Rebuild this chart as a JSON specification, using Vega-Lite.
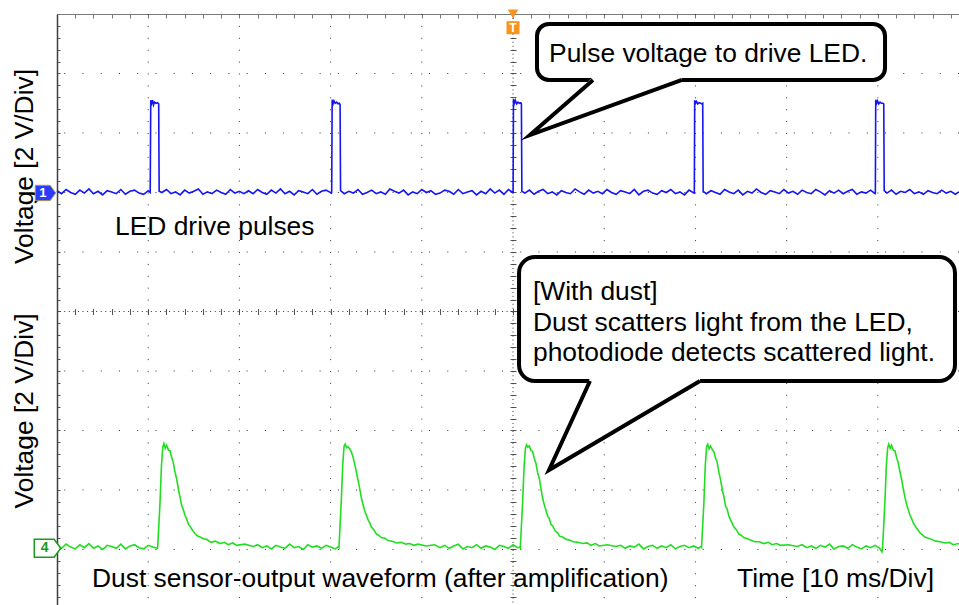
{
"$schema": "https://vega.github.io/schema/vega-lite/v6.json",
"width": 902, "height": 591,
"autosize": {"type": "none"},
"padding": {"left": 57, "top": 14, "right": 0, "bottom": 0},
"background": "white",
"config": {"view": {"stroke": null}, "font": "Liberation Sans"},
"resolve": {"axis": {"x": "independent", "y": "independent"}},
"datasets": {
"ch1": [
{"t":0.0,"v":7.03},{"t":0.5,"v":6.98},{"t":1.0,"v":7.05},{"t":1.5,"v":7.0},{"t":2.0,"v":6.97},{"t":2.5,"v":7.04},{"t":3.0,"v":6.99},{"t":3.5,"v":7.06},{"t":4.0,"v":6.98},{"t":4.5,"v":7.02},{"t":5.0,"v":6.96},{"t":5.5,"v":7.03},{"t":6.0,"v":7.01},{"t":6.5,"v":6.98},{"t":7.0,"v":7.05},{"t":7.5,"v":6.97},{"t":8.0,"v":7.02},{"t":8.5,"v":7.04},{"t":9.0,"v":6.99},{"t":9.5,"v":6.97},{"t":10.0,"v":7.03},
{"t":10.22,"v":7.0},{"t":10.28,"v":8.55},{"t":10.38,"v":8.5},{"t":10.48,"v":8.55},{"t":10.58,"v":8.47},{"t":10.7,"v":8.52},{"t":10.85,"v":8.5},{"t":11.0,"v":8.51},{"t":11.15,"v":8.49},{"t":11.2,"v":7.02},
{"t":11.5,"v":7.0},{"t":12.0,"v":7.05},{"t":12.5,"v":6.98},{"t":13.0,"v":7.01},{"t":13.5,"v":6.96},{"t":14.0,"v":7.04},{"t":14.5,"v":6.99},{"t":15.0,"v":7.02},{"t":15.5,"v":7.06},{"t":16.0,"v":6.97},{"t":16.5,"v":7.01},{"t":17.0,"v":6.98},{"t":17.5,"v":7.04},{"t":18.0,"v":7.0},{"t":18.5,"v":6.97},{"t":19.0,"v":7.05},{"t":19.5,"v":6.99},{"t":20.0,"v":7.02},{"t":20.5,"v":6.98},{"t":21.0,"v":7.03},{"t":21.5,"v":6.98},{"t":22.0,"v":7.05},{"t":22.5,"v":7.0},{"t":23.0,"v":6.97},{"t":23.5,"v":7.04},{"t":24.0,"v":6.99},{"t":24.5,"v":7.06},{"t":25.0,"v":6.98},{"t":25.5,"v":7.02},{"t":26.0,"v":6.96},{"t":26.5,"v":7.03},{"t":27.0,"v":7.01},{"t":27.5,"v":6.98},{"t":28.0,"v":7.05},{"t":28.5,"v":6.97},{"t":29.0,"v":7.02},{"t":29.5,"v":7.04},{"t":30.1,"v":6.99},
{"t":30.12,"v":7.0},{"t":30.17,"v":8.56},{"t":30.27,"v":8.49},{"t":30.37,"v":8.54},{"t":30.5,"v":8.5},{"t":30.65,"v":8.52},{"t":30.8,"v":8.49},{"t":30.95,"v":8.5},{"t":31.04,"v":8.48},{"t":31.09,"v":7.03},
{"t":31.5,"v":6.98},{"t":32.0,"v":7.02},{"t":32.5,"v":6.99},{"t":33.0,"v":7.05},{"t":33.5,"v":6.97},{"t":34.0,"v":7.0},{"t":34.5,"v":7.04},{"t":35.0,"v":6.98},{"t":35.5,"v":7.01},{"t":36.0,"v":6.97},{"t":36.5,"v":7.06},{"t":37.0,"v":7.02},{"t":37.5,"v":6.99},{"t":38.0,"v":7.04},{"t":38.5,"v":6.96},{"t":39.0,"v":7.01},{"t":39.5,"v":6.98},{"t":40.0,"v":7.05},{"t":40.5,"v":7.0},{"t":41.0,"v":7.03},{"t":41.5,"v":6.97},{"t":42.0,"v":6.99},{"t":42.5,"v":7.04},{"t":43.0,"v":7.02},{"t":43.5,"v":6.97},{"t":44.0,"v":7.05},{"t":44.5,"v":6.98},{"t":45.0,"v":7.01},{"t":45.5,"v":7.03},{"t":46.0,"v":6.96},{"t":46.5,"v":7.02},{"t":47.0,"v":6.98},{"t":47.5,"v":7.06},{"t":48.0,"v":6.99},{"t":48.5,"v":7.04},{"t":49.0,"v":6.97},{"t":49.5,"v":7.05},{"t":49.98,"v":7.0},
{"t":50.01,"v":7.01},{"t":50.05,"v":8.57},{"t":50.15,"v":8.5},{"t":50.25,"v":8.55},{"t":50.4,"v":8.49},{"t":50.55,"v":8.52},{"t":50.7,"v":8.5},{"t":50.85,"v":8.51},{"t":50.92,"v":8.49},{"t":50.97,"v":7.02},
{"t":51.3,"v":6.99},{"t":51.8,"v":7.04},{"t":52.3,"v":6.97},{"t":52.8,"v":7.02},{"t":53.3,"v":7.05},{"t":53.8,"v":6.98},{"t":54.3,"v":7.01},{"t":54.8,"v":6.96},{"t":55.3,"v":7.03},{"t":55.8,"v":7.0},{"t":56.3,"v":6.98},{"t":56.8,"v":7.06},{"t":57.3,"v":7.01},{"t":57.8,"v":6.97},{"t":58.3,"v":7.04},{"t":58.8,"v":6.99},{"t":59.3,"v":7.02},{"t":59.8,"v":6.98},{"t":60.3,"v":7.05},{"t":60.8,"v":7.0},{"t":61.3,"v":6.97},{"t":61.8,"v":7.03},{"t":62.3,"v":7.01},{"t":62.8,"v":6.98},{"t":63.3,"v":7.05},{"t":63.8,"v":6.96},{"t":64.3,"v":7.02},{"t":64.8,"v":7.04},{"t":65.3,"v":6.99},{"t":65.8,"v":6.97},{"t":66.3,"v":7.03},{"t":66.8,"v":7.0},{"t":67.3,"v":7.05},{"t":67.8,"v":6.98},{"t":68.3,"v":7.01},{"t":68.8,"v":6.96},{"t":69.3,"v":7.04},{"t":69.85,"v":6.99},
{"t":69.88,"v":7.0},{"t":69.92,"v":8.55},{"t":70.02,"v":8.5},{"t":70.12,"v":8.53},{"t":70.25,"v":8.49},{"t":70.4,"v":8.51},{"t":70.55,"v":8.5},{"t":70.7,"v":8.49},{"t":70.8,"v":8.5},{"t":70.85,"v":7.02},
{"t":71.2,"v":6.98},{"t":71.7,"v":7.03},{"t":72.2,"v":7.0},{"t":72.7,"v":6.97},{"t":73.2,"v":7.05},{"t":73.7,"v":7.01},{"t":74.2,"v":6.98},{"t":74.7,"v":7.04},{"t":75.2,"v":6.96},{"t":75.7,"v":7.02},{"t":76.2,"v":6.99},{"t":76.7,"v":7.06},{"t":77.2,"v":7.0},{"t":77.7,"v":6.97},{"t":78.2,"v":7.03},{"t":78.7,"v":7.01},{"t":79.2,"v":6.98},{"t":79.7,"v":7.05},{"t":80.2,"v":6.99},{"t":80.7,"v":7.02},{"t":81.2,"v":6.97},{"t":81.7,"v":7.04},{"t":82.2,"v":7.0},{"t":82.7,"v":6.98},{"t":83.2,"v":7.05},{"t":83.7,"v":7.01},{"t":84.2,"v":6.96},{"t":84.7,"v":7.03},{"t":85.2,"v":6.99},{"t":85.7,"v":7.04},{"t":86.2,"v":6.98},{"t":86.7,"v":7.02},{"t":87.2,"v":7.05},{"t":87.7,"v":6.97},{"t":88.2,"v":7.01},{"t":88.7,"v":6.99},{"t":89.2,"v":7.04},{"t":89.7,"v":6.98},
{"t":89.73,"v":7.0},{"t":89.77,"v":8.56},{"t":89.87,"v":8.5},{"t":89.97,"v":8.54},{"t":90.1,"v":8.49},{"t":90.25,"v":8.52},{"t":90.4,"v":8.5},{"t":90.55,"v":8.5},{"t":90.65,"v":8.49},{"t":90.7,"v":7.03},
{"t":91.0,"v":6.99},{"t":91.5,"v":7.04},{"t":92.0,"v":6.97},{"t":92.5,"v":7.02},{"t":93.0,"v":7.0},{"t":93.5,"v":7.05},{"t":94.0,"v":6.98},{"t":94.5,"v":7.01},{"t":95.0,"v":6.97},{"t":95.5,"v":7.03},{"t":96.0,"v":7.0},{"t":96.5,"v":6.98},{"t":97.0,"v":7.04},{"t":97.5,"v":6.99},{"t":98.0,"v":7.02},{"t":98.5,"v":6.97},{"t":98.9,"v":7.01}
],
"ch4": [
{"t":0.0,"v":1.07},{"t":0.5,"v":1.02},{"t":1.0,"v":1.09},{"t":1.5,"v":1.04},{"t":2.0,"v":1.01},{"t":2.5,"v":1.08},{"t":3.0,"v":1.03},{"t":3.5,"v":1.1},{"t":4.0,"v":1.02},{"t":4.5,"v":1.06},{"t":5.0,"v":1.0},{"t":5.5,"v":1.07},{"t":6.0,"v":1.05},{"t":6.5,"v":1.02},{"t":7.0,"v":1.09},{"t":7.5,"v":1.01},{"t":8.0,"v":1.06},{"t":8.5,"v":1.08},{"t":9.0,"v":1.03},{"t":9.5,"v":1.01},{"t":10.0,"v":1.07},{"t":10.5,"v":1.04},{"t":11.0,"v":1.02},
{"t":11.04,"v":1.04},{"t":11.3,"v":1.8},{"t":11.45,"v":2.4},{"t":11.6,"v":2.72},{"t":11.72,"v":2.78},{"t":11.87,"v":2.7},{"t":12.02,"v":2.75},{"t":12.22,"v":2.67},{"t":12.39,"v":2.66},{"t":12.57,"v":2.55},{"t":12.75,"v":2.46},{"t":12.94,"v":2.3},{"t":13.13,"v":2.18},{"t":13.32,"v":2.0},{"t":13.49,"v":1.88},{"t":13.67,"v":1.74},{"t":13.85,"v":1.67},{"t":14.04,"v":1.57},{"t":14.22,"v":1.51},{"t":14.4,"v":1.43},{"t":14.58,"v":1.39},{"t":14.87,"v":1.32},{"t":15.13,"v":1.27},{"t":15.37,"v":1.23},{"t":15.68,"v":1.21},{"t":16.07,"v":1.18},{"t":16.41,"v":1.17},{"t":16.87,"v":1.12},{"t":17.37,"v":1.14},{"t":17.87,"v":1.1},{"t":18.37,"v":1.12},{"t":18.77,"v":1.08},{"t":19.27,"v":1.11},{"t":19.7,"v":1.07},{"t":20.57,"v":1.09},{"t":21.52,"v":1.05},
{"t":22.0,"v":1.08},{"t":22.5,"v":1.03},{"t":23.0,"v":1.06},{"t":23.5,"v":1.01},{"t":24.0,"v":1.07},{"t":24.5,"v":1.04},{"t":25.0,"v":1.02},{"t":25.5,"v":1.09},{"t":26.0,"v":1.03},{"t":26.5,"v":1.05},{"t":27.0,"v":1.0},{"t":27.5,"v":1.08},{"t":28.0,"v":1.04},{"t":28.5,"v":1.06},{"t":29.0,"v":1.02},{"t":29.5,"v":1.07},{"t":30.0,"v":1.04},{"t":30.5,"v":1.01},{"t":30.88,"v":1.05},
{"t":30.92,"v":1.04},{"t":31.18,"v":1.85},{"t":31.33,"v":2.42},{"t":31.48,"v":2.74},{"t":31.6,"v":2.77},{"t":31.75,"v":2.71},{"t":31.9,"v":2.73},{"t":32.1,"v":2.69},{"t":32.27,"v":2.64},{"t":32.45,"v":2.56},{"t":32.63,"v":2.44},{"t":32.82,"v":2.31},{"t":33.01,"v":2.16},{"t":33.2,"v":2.02},{"t":33.37,"v":1.87},{"t":33.55,"v":1.76},{"t":33.73,"v":1.65},{"t":33.92,"v":1.58},{"t":34.1,"v":1.5},{"t":34.28,"v":1.45},{"t":34.46,"v":1.38},{"t":34.75,"v":1.33},{"t":35.01,"v":1.26},{"t":35.25,"v":1.24},{"t":35.56,"v":1.2},{"t":35.95,"v":1.19},{"t":36.29,"v":1.15},{"t":36.75,"v":1.14},{"t":37.25,"v":1.11},{"t":37.75,"v":1.12},{"t":38.25,"v":1.09},{"t":38.65,"v":1.1},{"t":39.15,"v":1.07},{"t":39.58,"v":1.09},{"t":40.45,"v":1.06},{"t":41.4,"v":1.08},
{"t":42.0,"v":1.03},{"t":42.5,"v":1.07},{"t":43.0,"v":1.02},{"t":43.5,"v":1.06},{"t":44.0,"v":1.09},{"t":44.5,"v":1.01},{"t":45.0,"v":1.05},{"t":45.5,"v":1.03},{"t":46.0,"v":1.08},{"t":46.5,"v":1.02},{"t":47.0,"v":1.06},{"t":47.5,"v":1.04},{"t":48.0,"v":1.0},{"t":48.5,"v":1.07},{"t":49.0,"v":1.05},{"t":49.5,"v":1.02},{"t":50.0,"v":1.08},{"t":50.5,"v":1.03},{"t":50.76,"v":1.04},
{"t":50.8,"v":1.03},{"t":51.06,"v":1.82},{"t":51.21,"v":2.38},{"t":51.36,"v":2.7},{"t":51.48,"v":2.76},{"t":51.63,"v":2.72},{"t":51.78,"v":2.74},{"t":51.98,"v":2.66},{"t":52.15,"v":2.65},{"t":52.33,"v":2.53},{"t":52.51,"v":2.45},{"t":52.7,"v":2.29},{"t":52.89,"v":2.19},{"t":53.08,"v":2.01},{"t":53.25,"v":1.86},{"t":53.43,"v":1.75},{"t":53.61,"v":1.66},{"t":53.8,"v":1.56},{"t":53.98,"v":1.52},{"t":54.16,"v":1.42},{"t":54.34,"v":1.4},{"t":54.63,"v":1.31},{"t":54.89,"v":1.28},{"t":55.13,"v":1.22},{"t":55.44,"v":1.21},{"t":55.83,"v":1.17},{"t":56.17,"v":1.16},{"t":56.63,"v":1.13},{"t":57.13,"v":1.12},{"t":57.63,"v":1.1},{"t":58.13,"v":1.11},{"t":58.53,"v":1.07},{"t":59.03,"v":1.1},{"t":59.46,"v":1.06},{"t":60.33,"v":1.08},{"t":61.28,"v":1.05},
{"t":61.8,"v":1.07},{"t":62.3,"v":1.02},{"t":62.8,"v":1.06},{"t":63.3,"v":1.04},{"t":63.8,"v":1.09},{"t":64.3,"v":1.01},{"t":64.8,"v":1.05},{"t":65.3,"v":1.07},{"t":65.8,"v":1.02},{"t":66.3,"v":1.06},{"t":66.8,"v":1.03},{"t":67.3,"v":1.08},{"t":67.8,"v":1.01},{"t":68.3,"v":1.05},{"t":68.8,"v":1.07},{"t":69.3,"v":1.03},{"t":69.8,"v":1.06},{"t":70.3,"v":1.02},{"t":70.63,"v":1.05},
{"t":70.67,"v":1.04},{"t":70.93,"v":1.79},{"t":71.08,"v":2.41},{"t":71.23,"v":2.73},{"t":71.35,"v":2.77},{"t":71.5,"v":2.69},{"t":71.65,"v":2.74},{"t":71.85,"v":2.68},{"t":72.02,"v":2.64},{"t":72.2,"v":2.54},{"t":72.38,"v":2.47},{"t":72.57,"v":2.3},{"t":72.76,"v":2.17},{"t":72.95,"v":2.0},{"t":73.12,"v":1.89},{"t":73.3,"v":1.73},{"t":73.48,"v":1.68},{"t":73.67,"v":1.56},{"t":73.85,"v":1.5},{"t":74.03,"v":1.44},{"t":74.21,"v":1.38},{"t":74.5,"v":1.33},{"t":74.76,"v":1.26},{"t":75.0,"v":1.24},{"t":75.31,"v":1.2},{"t":75.7,"v":1.18},{"t":76.04,"v":1.16},{"t":76.5,"v":1.13},{"t":77.0,"v":1.13},{"t":77.5,"v":1.1},{"t":78.0,"v":1.12},{"t":78.4,"v":1.08},{"t":78.9,"v":1.1},{"t":79.33,"v":1.07},{"t":80.2,"v":1.08},{"t":81.15,"v":1.05},
{"t":81.7,"v":1.08},{"t":82.2,"v":1.03},{"t":82.7,"v":1.06},{"t":83.2,"v":1.02},{"t":83.7,"v":1.07},{"t":84.2,"v":1.04},{"t":84.7,"v":1.09},{"t":85.2,"v":1.01},{"t":85.7,"v":1.05},{"t":86.2,"v":1.06},{"t":86.7,"v":1.02},{"t":87.2,"v":1.08},{"t":87.7,"v":1.04},{"t":88.2,"v":1.01},{"t":88.7,"v":1.06},{"t":89.2,"v":1.03},{"t":89.7,"v":1.07},{"t":90.2,"v":1.02},{"t":90.45,"v":0.96},
{"t":90.52,"v":1.03},{"t":90.78,"v":1.81},{"t":90.93,"v":2.4},{"t":91.08,"v":2.71},{"t":91.2,"v":2.77},{"t":91.35,"v":2.7},{"t":91.5,"v":2.75},{"t":91.7,"v":2.67},{"t":91.87,"v":2.66},{"t":92.05,"v":2.55},{"t":92.23,"v":2.46},{"t":92.42,"v":2.31},{"t":92.61,"v":2.18},{"t":92.8,"v":2.01},{"t":92.97,"v":1.88},{"t":93.15,"v":1.76},{"t":93.33,"v":1.67},{"t":93.52,"v":1.58},{"t":93.7,"v":1.52},{"t":93.88,"v":1.45},{"t":94.06,"v":1.4},{"t":94.35,"v":1.34},{"t":94.61,"v":1.28},{"t":94.85,"v":1.25},{"t":95.16,"v":1.21},{"t":95.55,"v":1.19},{"t":95.89,"v":1.17},{"t":96.35,"v":1.14},{"t":96.85,"v":1.13},{"t":97.35,"v":1.11},{"t":97.85,"v":1.12},{"t":98.25,"v":1.08},{"t":98.9,"v":1.1}
],
"vgrid": [{"gx":10},{"gx":20},{"gx":30},{"gx":40},{"gx":60},{"gx":70},{"gx":80},{"gx":90}],
"hgrid": [{"gy":1},{"gy":2},{"gy":3},{"gy":4},{"gy":6},{"gy":7},{"gy":8},{"gy":9}],
"tailfill1": [{"t":51.86,"v":7.966,"v2":7.966},{"t":58.77,"v":8.94,"v2":8.349},{"t":68.53,"v":8.94,"v2":8.86}],
"tailline1": [{"i":0,"t":58.77,"v":8.891},{"i":1,"t":51.86,"v":7.966},{"i":2,"t":68.53,"v":8.891}],
"tailfill2": [{"t":53.95,"v":2.336,"v2":2.336},{"t":58.44,"v":3.88,"v2":2.742},{"t":70.5,"v":3.88,"v2":3.8}],
"tailline2": [{"i":0,"t":58.44,"v":3.832},{"i":1,"t":53.95,"v":2.336},{"i":2,"t":70.5,"v":3.832}],
"one": [{}]
},
"layer": [
{"data": {"name": "vgrid"},
 "mark": {"type": "rule", "stroke": "#333333", "strokeWidth": 1, "strokeDash": [1, 10.9]},
 "encoding": {"x": {"field": "gx", "type": "quantitative", "scale": {"domain": [0, 98.9], "nice": false, "zero": false},
   "axis": {"orient": "top", "title": null, "labels": false, "grid": false, "domain": true, "domainColor": "#7a7a7a", "domainWidth": 1.2, "ticks": true, "tickSize": -4, "tickColor": "#7a7a7a", "tickWidth": 1,
     "values": [0,2,4,6,8,10,12,14,16,18,20,22,24,26,28,30,32,34,36,38,40,42,44,46,48,50,52,54,56,58,60,62,64,66,68,70,72,74,76,78,80,82,84,86,88,90,92,94,96,98]}}}},
{"data": {"name": "hgrid"},
 "mark": {"type": "rule", "stroke": "#333333", "strokeWidth": 1, "strokeDash": [1, 17.24]},
 "encoding": {"y": {"field": "gy", "type": "quantitative", "scale": {"domain": [0.067, 10], "nice": false, "zero": false},
   "axis": {"orient": "left", "title": null, "labels": false, "grid": false, "domain": true, "domainColor": "#404040", "domainWidth": 1.5, "ticks": true, "tickSize": -3, "tickColor": "#555555", "tickWidth": 1,
     "values": [0.2,0.4,0.6,0.8,1,1.2,1.4,1.6,1.8,2,2.2,2.4,2.6,2.8,3,3.2,3.4,3.6,3.8,4,4.2,4.4,4.6,4.8,5,5.2,5.4,5.6,5.8,6,6.2,6.4,6.6,6.8,7,7.2,7.4,7.6,7.8,8,8.2,8.4,8.6,8.8,9,9.2,9.4,9.6,9.8]}}}},
{"data": {"values": [{"gx": 50}]},
 "mark": {"type": "rule", "stroke": "#333333", "strokeWidth": 1, "strokeDash": [1, 2.97]},
 "encoding": {"x": {"field": "gx", "type": "quantitative", "scale": {"domain": [0, 98.9], "nice": false, "zero": false},
   "axis": {"orient": "bottom", "offset": -296.5, "title": null, "labels": false, "grid": false, "domain": false, "ticks": true, "tickSize": 6, "tickColor": "#555555", "tickWidth": 1,
     "values": [2,4,6,8,10,12,14,16,18,20,22,24,26,28,30,32,34,36,38,40,42,44,46,48,50,52,54,56,58,60,62,64,66,68,70,72,74,76,78,80,82,84,86,88,90,92,94,96,98]}}}},
{"data": {"values": [{"gy": 5}]},
 "mark": {"type": "rule", "stroke": "#333333", "strokeWidth": 1, "strokeDash": [1, 3.56]},
 "encoding": {"y": {"field": "gy", "type": "quantitative", "scale": {"domain": [0.067, 10], "nice": false, "zero": false},
   "axis": {"orient": "left", "offset": -459, "title": null, "labels": false, "grid": false, "domain": false, "ticks": true, "tickSize": 6, "tickColor": "#555555", "tickWidth": 1,
     "values": [0.2,0.4,0.6,0.8,1,1.2,1.4,1.6,1.8,2,2.2,2.4,2.6,2.8,3,3.2,3.4,3.6,3.8,4,4.2,4.4,4.6,4.8,5,5.2,5.4,5.6,5.8,6,6.2,6.4,6.6,6.8,7,7.2,7.4,7.6,7.8,8,8.2,8.4,8.6,8.8,9,9.2,9.4,9.6,9.8]}}}},
{"data": {"name": "ch1"},
 "mark": {"type": "line", "color": "#1414f5", "strokeWidth": 1.6},
 "encoding": {"x": {"field": "t", "type": "quantitative", "scale": {"domain": [0, 98.9], "nice": false, "zero": false}, "axis": null},
   "y": {"field": "v", "type": "quantitative", "scale": {"domain": [0.067, 10], "nice": false, "zero": false}, "axis": null}}},
{"data": {"name": "ch4"},
 "mark": {"type": "line", "color": "#22dd22", "strokeWidth": 1.6},
 "encoding": {"x": {"field": "t", "type": "quantitative", "scale": {"domain": [0, 98.9], "nice": false, "zero": false}, "axis": null},
   "y": {"field": "v", "type": "quantitative", "scale": {"domain": [0.067, 10], "nice": false, "zero": false}, "axis": null}}},
{"data": {"name": "one"},
 "mark": {"type": "rect", "fill": "white", "stroke": "black", "strokeWidth": 4, "cornerRadius": 12},
 "encoding": {"x": {"datum": 52.63, "type": "quantitative", "axis": null}, "x2": {"datum": 90.79},
   "y": {"datum": 9.832, "type": "quantitative", "axis": null}, "y2": {"datum": 8.891}}},
{"data": {"name": "tailfill1"},
 "mark": {"type": "area", "orient": "vertical", "fill": "white", "opacity": 1},
 "encoding": {"x": {"field": "t", "type": "quantitative", "axis": null}, "y": {"field": "v", "type": "quantitative", "axis": null}, "y2": {"field": "v2"}}},
{"data": {"name": "tailline1"},
 "mark": {"type": "line", "color": "black", "strokeWidth": 4, "strokeJoin": "miter", "strokeMiterLimit": 12, "strokeCap": "butt"},
 "encoding": {"x": {"field": "t", "type": "quantitative", "axis": null}, "y": {"field": "v", "type": "quantitative", "axis": null}, "order": {"field": "i"}}},
{"data": {"name": "one"},
 "mark": {"type": "rect", "fill": "white", "stroke": "black", "strokeWidth": 4, "cornerRadius": 16},
 "encoding": {"x": {"datum": 50.66, "type": "quantitative", "axis": null}, "x2": {"datum": 98.46},
   "y": {"datum": 5.916, "type": "quantitative", "axis": null}, "y2": {"datum": 3.832}}},
{"data": {"name": "tailfill2"},
 "mark": {"type": "area", "orient": "vertical", "fill": "white", "opacity": 1},
 "encoding": {"x": {"field": "t", "type": "quantitative", "axis": null}, "y": {"field": "v", "type": "quantitative", "axis": null}, "y2": {"field": "v2"}}},
{"data": {"name": "tailline2"},
 "mark": {"type": "line", "color": "black", "strokeWidth": 4, "strokeJoin": "miter", "strokeMiterLimit": 12, "strokeCap": "butt"},
 "encoding": {"x": {"field": "t", "type": "quantitative", "axis": null}, "y": {"field": "v", "type": "quantitative", "axis": null}, "order": {"field": "i"}}},
{"data": {"name": "one"},
 "mark": {"type": "text", "text": "Pulse voltage to drive LED.", "align": "left", "baseline": "alphabetic", "font": "Liberation Sans", "fontSize": 26.4, "color": "black"},
 "encoding": {"x": {"datum": 53.95, "type": "quantitative", "axis": null}, "y": {"datum": 9.198, "type": "quantitative", "axis": null}}},
{"data": {"name": "one"},
 "mark": {"type": "text", "text": ["[With dust]", "Dust scatters light from the LED,", "photodiode detects scattered light."], "lineHeight": 30.5, "align": "left", "baseline": "alphabetic", "font": "Liberation Sans", "fontSize": 26.4, "color": "black"},
 "encoding": {"x": {"datum": 52.19, "type": "quantitative", "axis": null}, "y": {"datum": 5.193, "type": "quantitative", "axis": null}}},
{"data": {"name": "one"},
 "mark": {"type": "text", "text": "LED drive pulses", "align": "left", "baseline": "alphabetic", "font": "Liberation Sans", "fontSize": 26.4, "color": "black"},
 "encoding": {"x": {"datum": 6.36, "type": "quantitative", "axis": null}, "y": {"datum": 6.286, "type": "quantitative", "axis": null}}},
{"data": {"name": "one"},
 "mark": {"type": "text", "text": "Dust sensor-output waveform (after amplification)", "align": "left", "baseline": "alphabetic", "font": "Liberation Sans", "fontSize": 26.4, "color": "black"},
 "encoding": {"x": {"datum": 3.84, "type": "quantitative", "axis": null}, "y": {"datum": 0.375, "type": "quantitative", "axis": null}}},
{"data": {"name": "one"},
 "mark": {"type": "text", "text": "Time [10 ms/Div]", "align": "left", "baseline": "alphabetic", "font": "Liberation Sans", "fontSize": 26.4, "color": "black"},
 "encoding": {"x": {"datum": 74.56, "type": "quantitative", "axis": null}, "y": {"datum": 0.375, "type": "quantitative", "axis": null}}},
{"data": {"name": "one"},
 "mark": {"type": "text", "text": "Voltage [2 V/Div]", "angle": 270, "align": "center", "baseline": "alphabetic", "font": "Liberation Sans", "fontSize": 26.4, "color": "black"},
 "encoding": {"x": {"datum": -2.63, "type": "quantitative", "axis": null}, "y": {"datum": 7.437, "type": "quantitative", "axis": null}}},
{"data": {"name": "one"},
 "mark": {"type": "text", "text": "Voltage [2 V/Div]", "angle": 270, "align": "center", "baseline": "alphabetic", "font": "Liberation Sans", "fontSize": 26.4, "color": "black"},
 "encoding": {"x": {"datum": -2.63, "type": "quantitative", "axis": null}, "y": {"datum": 3.33, "type": "quantitative", "axis": null}}},
{"data": {"name": "one"},
 "mark": {"type": "point", "shape": "M-1,-0.75L0.45,-0.75L1,0L0.45,0.75L-1,0.75Z", "size": 420, "filled": true, "color": "#2b3bff", "stroke": "#a89a5a", "strokeWidth": 1, "opacity": 1},
 "encoding": {"x": {"datum": -1.26, "type": "quantitative", "axis": null}, "y": {"datum": 6.992, "type": "quantitative", "axis": null}}},
{"data": {"name": "one"},
 "mark": {"type": "text", "text": "1", "align": "center", "baseline": "middle", "font": "Liberation Sans", "fontWeight": "bold", "fontSize": 13, "color": "white"},
 "encoding": {"x": {"datum": -1.55, "type": "quantitative", "axis": null}, "y": {"datum": 6.992, "type": "quantitative", "axis": null}}},
{"data": {"name": "one"},
 "mark": {"type": "point", "shape": "M-1,-0.68L0.5,-0.68L1,0L0.5,0.68L-1,0.68Z", "size": 700, "filled": true, "color": "white", "stroke": "#1a9a1a", "strokeWidth": 1.5, "opacity": 1},
 "encoding": {"x": {"datum": -1.04, "type": "quantitative", "axis": null}, "y": {"datum": 1.02, "type": "quantitative", "axis": null}}},
{"data": {"name": "one"},
 "mark": {"type": "text", "text": "4", "align": "center", "baseline": "middle", "font": "Liberation Sans", "fontWeight": "bold", "fontSize": 14, "color": "#1a9a1a"},
 "encoding": {"x": {"datum": -1.35, "type": "quantitative", "axis": null}, "y": {"datum": 1.02, "type": "quantitative", "axis": null}}},
{"data": {"name": "one"},
 "mark": {"type": "point", "shape": "square", "size": 169, "filled": true, "color": "#f7941d", "opacity": 1},
 "encoding": {"x": {"datum": 50, "type": "quantitative", "axis": null}, "y": {"datum": 9.77, "type": "quantitative", "axis": null}}},
{"data": {"name": "one"},
 "mark": {"type": "point", "shape": "triangle-down", "size": 110, "filled": true, "color": "#f7941d", "opacity": 1},
 "encoding": {"x": {"datum": 50, "type": "quantitative", "axis": null}, "y": {"datum": 10.0, "type": "quantitative", "axis": null}}},
{"data": {"name": "one"},
 "mark": {"type": "text", "text": "T", "align": "center", "baseline": "middle", "font": "Liberation Sans", "fontWeight": "bold", "fontSize": 12, "color": "white"},
 "encoding": {"x": {"datum": 50, "type": "quantitative", "axis": null}, "y": {"datum": 9.77, "type": "quantitative", "axis": null}}}
]
}
